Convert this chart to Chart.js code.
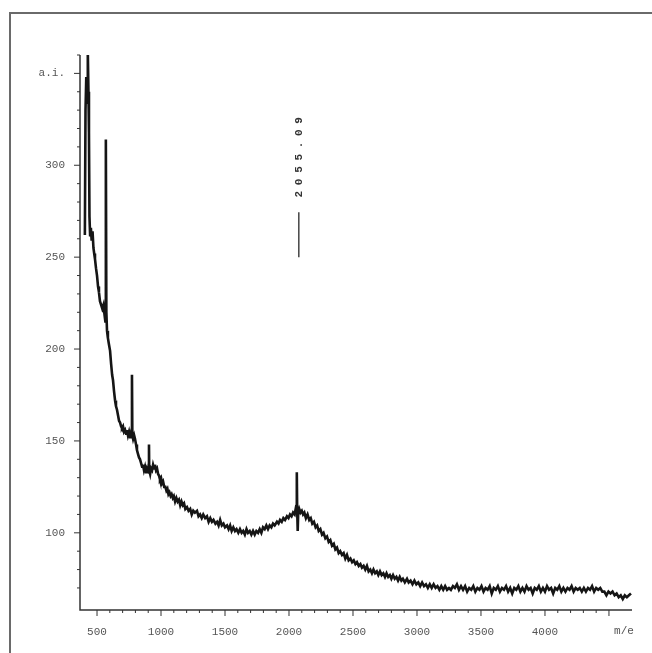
<!DOCTYPE html>
<html>
<head>
<meta charset="utf-8">
<script src="https://cdn.jsdelivr.net/npm/chart.js@4"></script>
<style>
  body { margin: 0; background: #fff; }
  #wrap { position: relative; width: 652px; height: 653px; }
</style>
</head>
<body>
<div id="wrap"><canvas id="spectrum"></canvas></div>
<script>
// m/e values and intensity
const spectrumPoints = [
  [405, 262], [410, 330], [416, 348], [422, 334], [428, 362], [433, 340], [437, 318], [441, 272],
  [446, 262], [452, 266], [458, 259], [465, 264], [472, 255], [478, 252], [484, 249], [492, 244],
  [500, 240], [508, 234], [515, 231], [523, 226], [532, 224], [541, 222], [550, 224], [558, 219],
  [565, 215], [568, 300], [570, 314], [573, 220], [578, 210], [585, 206], [592, 203], [602, 199],
  [610, 192], [618, 186], [625, 183], [633, 177], [641, 172], [648, 169], [656, 167], [664, 164],
  [672, 161], [680, 160], [688, 158], [695, 157], [703, 158], [711, 155], [719, 156], [727, 154],
  [734, 156], [742, 153], [750, 155], [758, 152], [765, 154], [770, 156], [773, 186], [776, 153],
  [782, 151], [790, 153], [797, 151], [805, 148], [812, 145], [820, 143], [828, 141], [836, 140],
  [844, 138], [852, 136], [859, 137], [867, 134], [875, 136], [883, 133], [890, 135], [898, 134],
  [904, 137], [906, 148], [908, 134], [915, 132], [922, 135], [930, 134], [938, 137], [946, 135],
  [953, 137], [961, 134], [969, 135], [977, 132], [985, 131], [992, 129], [1000, 130], [1008, 127],
  [1016, 128], [1025, 125], [1034, 125], [1042, 123], [1050, 124], [1058, 121], [1066, 122], [1075, 120],
  [1083, 121], [1092, 119], [1100, 120], [1110, 117], [1120, 119], [1130, 117], [1140, 118], [1150, 115],
  [1160, 117], [1170, 115], [1180, 116], [1190, 113], [1203, 114], [1215, 112], [1228, 113], [1240, 110],
  [1252, 112], [1265, 111], [1281, 112], [1293, 109], [1305, 110], [1318, 108], [1330, 110], [1345, 108],
  [1359, 109], [1372, 106], [1385, 108], [1398, 106], [1410, 107], [1425, 105], [1438, 106], [1450, 104],
  [1462, 107], [1475, 104], [1488, 105], [1500, 103], [1516, 104], [1528, 102], [1540, 104], [1552, 101],
  [1565, 103], [1578, 101], [1590, 102], [1604, 100], [1617, 102], [1630, 100], [1642, 101], [1655, 99],
  [1668, 102], [1680, 100], [1693, 101], [1706, 99], [1719, 101], [1732, 99], [1745, 101], [1758, 100],
  [1771, 102], [1784, 100], [1797, 103], [1810, 102], [1823, 104], [1836, 102], [1849, 104], [1862, 103],
  [1875, 105], [1888, 104], [1906, 106], [1918, 105], [1930, 107], [1943, 106], [1956, 108], [1969, 107],
  [1984, 109], [1996, 108], [2008, 110], [2020, 109], [2032, 111], [2044, 110], [2052, 113], [2058, 112],
  [2061, 133], [2064, 112], [2068, 101], [2072, 111], [2080, 113], [2090, 111], [2100, 112], [2110, 110],
  [2120, 111], [2132, 108], [2145, 110], [2158, 107], [2170, 108], [2182, 105], [2195, 106], [2208, 103],
  [2220, 104], [2232, 101], [2245, 102], [2258, 99], [2270, 100], [2284, 97], [2297, 98], [2310, 95],
  [2323, 96], [2336, 93], [2350, 94], [2362, 91], [2375, 92], [2388, 89], [2400, 90], [2414, 88],
  [2427, 89], [2440, 86], [2453, 88], [2466, 85], [2480, 86], [2493, 84], [2506, 85], [2519, 83],
  [2531, 84], [2545, 82], [2558, 83], [2570, 81], [2583, 82], [2596, 80], [2609, 82], [2622, 79],
  [2635, 80], [2648, 78], [2660, 80], [2673, 78], [2686, 79], [2698, 77], [2711, 79], [2724, 77],
  [2737, 78], [2750, 76], [2762, 78], [2775, 76], [2788, 77], [2800, 75], [2813, 77], [2826, 75],
  [2839, 76], [2852, 74], [2865, 76], [2878, 74], [2890, 75], [2905, 73], [2922, 75], [2935, 73],
  [2950, 74], [2965, 72], [2980, 74], [2995, 72], [3010, 73], [3025, 71], [3040, 73], [3055, 71],
  [3070, 72], [3085, 70], [3100, 72], [3115, 70], [3130, 72], [3145, 70], [3160, 71], [3175, 69],
  [3190, 71], [3205, 69], [3220, 71], [3235, 69], [3250, 70], [3265, 69], [3281, 71], [3296, 70],
  [3312, 72], [3328, 69], [3344, 71], [3360, 69], [3376, 71], [3392, 68], [3408, 70], [3424, 69],
  [3440, 71], [3456, 68], [3472, 70], [3488, 69], [3504, 71], [3520, 68], [3536, 70], [3552, 69],
  [3568, 71], [3584, 67], [3600, 70], [3616, 69], [3632, 71], [3648, 68], [3664, 70], [3680, 69],
  [3696, 71], [3712, 68], [3728, 70], [3744, 67], [3760, 70], [3776, 69], [3792, 71], [3808, 68],
  [3824, 70], [3840, 68], [3856, 71], [3872, 69], [3888, 70], [3904, 67], [3920, 70], [3936, 69],
  [3952, 71], [3968, 68], [3984, 70], [4000, 68], [4016, 71], [4032, 69], [4048, 70], [4064, 67],
  [4080, 70], [4096, 69], [4112, 71], [4128, 68], [4144, 70], [4160, 68], [4176, 70], [4192, 69],
  [4208, 71], [4224, 68], [4240, 70], [4256, 69], [4272, 70], [4288, 68], [4304, 70], [4320, 68],
  [4336, 70], [4352, 69], [4368, 71], [4384, 68], [4400, 70], [4416, 69], [4432, 70], [4448, 68],
  [4464, 68], [4480, 66], [4496, 68], [4512, 67], [4528, 68], [4544, 66], [4560, 67], [4576, 65],
  [4592, 66], [4608, 64], [4624, 66], [4640, 65], [4656, 66], [4672, 67]
];

const xLabelValues = [500, 1000, 1500, 2000, 2500, 3000, 3500, 4000];
const yLabelValues = [100, 150, 200, 250, 300];
const yTopLabel = { value: 350, text: 'a.i.' };
const xUnitLabel = { value: 4617, text: 'm/e' };
const peakLabel = { mass: 2061, text: '2055.09', lineFrom: 250, lineTo: 274.5, textFrom: 282.5 };

const tickFont = { family: 'Liberation Mono', size: 11 };

// axes drawn by hand so the major/minor tick lengths can differ
const axisFrame = {
  id: 'axisFrame',
  beforeDraw(chart) {
    const ctx = chart.ctx;
    ctx.save();
    ctx.strokeStyle = '#6a6a6a';
    ctx.lineWidth = 2;
    ctx.beginPath();
    ctx.moveTo(10, 653);
    ctx.lineTo(10, 13);
    ctx.lineTo(652, 13);
    ctx.stroke();
    ctx.restore();
  },
  afterDraw(chart) {
    const { ctx, chartArea: a, scales: { x, y } } = chart;
    ctx.save();
    ctx.strokeStyle = '#333';
    ctx.lineWidth = 1.5;
    ctx.beginPath();
    ctx.moveTo(a.left, a.top);
    ctx.lineTo(a.left, a.bottom);
    ctx.lineTo(a.right, a.bottom);
    ctx.stroke();

    ctx.lineWidth = 1;
    ctx.beginPath();
    x.ticks.forEach(t => {
      if (t.value % 100 !== 0) return;
      const px = x.getPixelForValue(t.value);
      const len = t.value % 500 === 0 ? 6 : 3;
      ctx.moveTo(px, a.bottom);
      ctx.lineTo(px, a.bottom + len);
    });
    y.ticks.forEach(t => {
      if (t.value % 10 !== 0) return;
      const py = y.getPixelForValue(t.value);
      const len = t.value % 50 === 0 ? 6 : 3;
      ctx.moveTo(a.left, py);
      ctx.lineTo(a.left - len, py);
    });
    ctx.stroke();

    ctx.fillStyle = '#555';
    ctx.font = '11px "Liberation Mono"';
    ctx.textAlign = 'center';
    ctx.textBaseline = 'middle';
    ctx.fillText(xUnitLabel.text, x.getPixelForValue(xUnitLabel.value), 631);
    ctx.textAlign = 'right';
    ctx.fillText(yTopLabel.text, a.left - 15, y.getPixelForValue(yTopLabel.value));

    // peak annotation
    const px = x.getPixelForValue(peakLabel.mass) + 2;
    ctx.strokeStyle = '#444';
    ctx.lineWidth = 1.5;
    ctx.beginPath();
    ctx.moveTo(px, y.getPixelForValue(peakLabel.lineFrom));
    ctx.lineTo(px, y.getPixelForValue(peakLabel.lineTo));
    ctx.stroke();

    ctx.translate(px, y.getPixelForValue(peakLabel.textFrom));
    ctx.rotate(-Math.PI / 2);
    ctx.fillStyle = '#333';
    ctx.font = 'bold 11px "Liberation Mono"';
    ctx.textAlign = 'left';
    [...peakLabel.text].forEach((ch, i) => ctx.fillText(ch, i * 12.3, 0));
    ctx.restore();
  }
};

new Chart(document.getElementById('spectrum'), {
  type: 'line',
  data: {
    datasets: [{
      data: spectrumPoints.map(p => ({ x: p[0], y: p[1] })),
      borderColor: '#151515',
      borderWidth: 2.6,
      pointRadius: 0,
      tension: 0
    }]
  },
  options: {
    responsive: true,
    maintainAspectRatio: false,
    animation: false,
    layout: { padding: { top: 55, right: 20, left: 0, bottom: 0 } },
    plugins: { legend: { display: false }, tooltip: { enabled: false } },
    scales: {
      x: {
        type: 'linear',
        min: 367,
        max: 4680,
        border: { display: false },
        grid: { display: false, drawTicks: false },
        afterFit: s => { s.height = 43; },
        ticks: {
          stepSize: 100,
          autoSkip: false,
          maxRotation: 0,
          padding: 15,
          color: '#555',
          font: tickFont,
          callback: v => xLabelValues.includes(v) ? String(v) : ''
        }
      },
      y: {
        min: 58,
        max: 360,
        border: { display: false },
        grid: { display: false, drawTicks: false },
        afterFit: s => { s.width = 80; },
        ticks: {
          stepSize: 10,
          autoSkip: false,
          padding: 15,
          color: '#555',
          font: tickFont,
          callback: v => yLabelValues.includes(v) ? String(v) : ''
        }
      }
    }
  },
  plugins: [axisFrame]
});
</script>
</body>
</html>
